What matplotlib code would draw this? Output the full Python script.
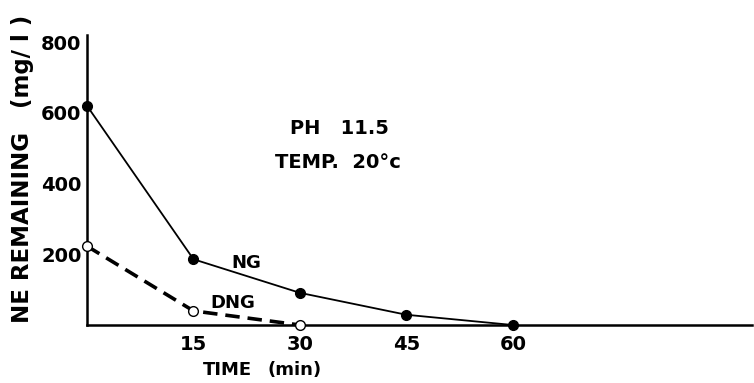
import matplotlib.pyplot as plt

plt.rcParams['font.family'] = ['DejaVu Sans']
plt.rcParams['font.weight'] = 'bold'

time_min = [0, 15, 30, 45, 60]
ng = [620, 186, 91, 29, 0]
time_dng = [0, 15, 30]
dng = [223, 40, 0]
x_ticks = [15, 30, 45, 60]
y_ticks = [200, 400, 600, 800]

fig = plt.figure(figsize=(7.54, 3.83), dpi=100)
ax = fig.add_axes([0.1154, 0.1514, 0.882, 0.757])

ax.plot(time_min, ng, 'k-', lw=1.3, marker='o', ms=7, mfc='k', mec='k', clip_on=False, zorder=3)
ax.plot(time_dng, dng, color='k', lw=2.6, ls=(0, (4, 2.2)), marker='o', ms=7,
        mfc='white', mec='k', mew=1.0, clip_on=False, zorder=3)

ax.set_xlim(0, 93.7)
ax.set_ylim(0, 820)
ax.set_xticks(x_ticks)
ax.set_yticks(y_ticks)
ax.tick_params(length=0, labelsize=14, pad=4)
ax.tick_params(axis='x', pad=7)
for lab in ax.get_xticklabels() + ax.get_yticklabels():
    lab.set_fontweight('bold')
for s in ['top', 'right']:
    ax.spines[s].set_visible(False)
for s in ['left', 'bottom']:
    ax.spines[s].set_linewidth(1.8)

ax.text(28.6, 555, 'PH   11.5', fontsize=14, fontweight='bold', ha='left', va='center')
ax.text(26.5, 459, 'TEMP.  20°c', fontsize=14, fontweight='bold', ha='left', va='center')
ax.text(22.5, 175, 'NG', fontsize=13, fontweight='bold', ha='center', va='center')
ax.text(20.5, 62, 'DNG', fontsize=13, fontweight='bold', ha='center', va='center')

fig.text(0.302, 0.034, 'TIME', fontsize=13, fontweight='bold', ha='center', va='center')
fig.text(0.391, 0.034, '(min)', fontsize=13, fontweight='bold', ha='center', va='center')
fig.text(0.03, 0.559, 'NE REMAINING   (mg/ l )', fontsize=16.5, fontweight='bold',
         rotation=90, ha='center', va='center')

fig.savefig('out.png', dpi=100)
